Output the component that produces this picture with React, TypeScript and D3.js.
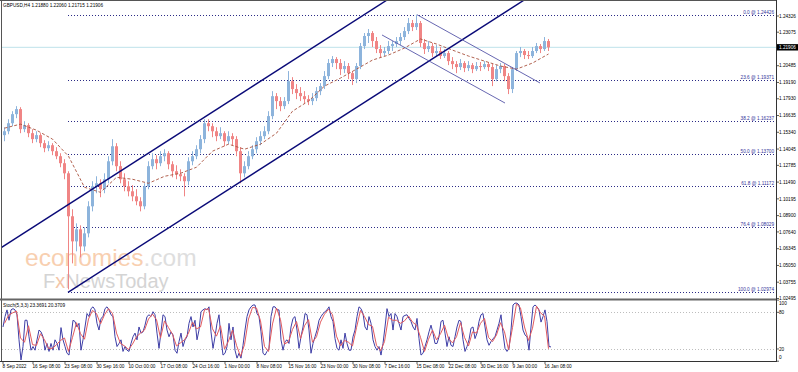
import * as d3 from "d3";

const W = 798;
const H = 372;
const FONT = "'Liberation Sans', Arial, sans-serif";

// one candle here = 4 H4 bars (1 px per H4 bar on screen)
const BARS_PER_CANDLE = 4;

const opens = [
  1.1512, 1.1542, 1.1604, 1.1674, 1.1713, 1.1558, 1.1589, 1.1527, 1.1481, 1.1512,
  1.1450, 1.1411, 1.1434, 1.1388, 1.1349, 1.1295, 1.1217, 1.0885, 1.0691, 1.0784,
  1.0652, 1.0753, 1.0962, 1.1117, 1.1140, 1.1094, 1.1171, 1.1310, 1.1426, 1.1272,
  1.1171, 1.1117, 1.1078, 1.1039, 1.1001, 1.0962, 1.1117, 1.1272, 1.1326, 1.1295,
  1.1349, 1.1372, 1.1287, 1.1233, 1.1210, 1.1194, 1.1156, 1.1310, 1.1349, 1.1403,
  1.1481, 1.1604, 1.1581, 1.1542, 1.1504, 1.1527, 1.1465, 1.1504, 1.1481, 1.1388,
  1.1217, 1.1272, 1.1349, 1.1403, 1.1465, 1.1504, 1.1542, 1.1659, 1.1813, 1.1775,
  1.1736, 1.1775, 1.1929, 1.1868, 1.1837, 1.1813, 1.1790, 1.1775, 1.1798, 1.1852,
  1.1891, 1.1968, 1.2069, 1.2100, 1.2069, 1.2022, 1.2046, 1.1991, 1.1945, 1.2046,
  1.2200, 1.2278, 1.2301, 1.2239, 1.2177, 1.2146, 1.2162, 1.2200, 1.2216, 1.2239,
  1.2270, 1.2316, 1.2378, 1.2347, 1.2378, 1.2224, 1.2177, 1.2200, 1.2146, 1.2162,
  1.2123, 1.2146, 1.2084, 1.2061, 1.2038, 1.2069, 1.2030, 1.2053, 1.2022, 1.2046,
  1.2038, 1.2061, 1.2038, 1.1945, 1.2022, 1.2046, 1.1968, 1.1868, 1.2022, 1.2146,
  1.2162, 1.2131, 1.2123, 1.2162, 1.2200, 1.2177, 1.2239,
];
const highs = [
  1.1573, 1.1635, 1.1697, 1.1736, 1.1728, 1.1620, 1.1604, 1.1558, 1.1542, 1.1527,
  1.1473, 1.1465, 1.1450, 1.1419, 1.1372, 1.1326, 1.1233, 1.0939, 1.0830, 1.0815,
  1.0799, 1.1001, 1.1156, 1.1194, 1.1171, 1.1217, 1.1349, 1.1481, 1.1450, 1.1310,
  1.1217, 1.1156, 1.1125, 1.1094, 1.1032, 1.1140, 1.1310, 1.1372, 1.1357, 1.1388,
  1.1403, 1.1388, 1.1310, 1.1279, 1.1248, 1.1217, 1.1341, 1.1388, 1.1434, 1.1512,
  1.1635, 1.1635, 1.1604, 1.1573, 1.1573, 1.1542, 1.1542, 1.1527, 1.1504, 1.1419,
  1.1310, 1.1388, 1.1434, 1.1496, 1.1542, 1.1581, 1.1697, 1.1852, 1.1837, 1.1806,
  1.1806, 1.2007, 1.1960, 1.1906, 1.1883, 1.1852, 1.1821, 1.1837, 1.1883, 1.1914,
  1.2007, 1.2100, 1.2123, 1.2115, 1.2100, 1.2084, 1.2069, 1.2007, 1.2069, 1.2224,
  1.2301, 1.2332, 1.2316, 1.2270, 1.2208, 1.2193, 1.2239, 1.2239, 1.2270, 1.2301,
  1.2347, 1.2417, 1.2402, 1.2443, 1.2394, 1.2255, 1.2239, 1.2224, 1.2208, 1.2193,
  1.2177, 1.2162, 1.2115, 1.2084, 1.2100, 1.2084, 1.2084, 1.2069, 1.2077, 1.2077,
  1.2084, 1.2077, 1.2061, 1.2053, 1.2069, 1.2061, 1.1991, 1.2038, 1.2162, 1.2193,
  1.2177, 1.2162, 1.2193, 1.2224, 1.2216, 1.2270, 1.2255,
];
const lows = [
  1.1465, 1.1519, 1.1581, 1.1643, 1.1527, 1.1535, 1.1496, 1.1450, 1.1457, 1.1419,
  1.1380, 1.1388, 1.1357, 1.1326, 1.1264, 1.1171, 1.0320, 1.0521, 1.0614, 1.0567,
  1.0614, 1.0722, 1.0923, 1.1063, 1.1032, 1.1063, 1.1140, 1.1279, 1.1233, 1.1140,
  1.1078, 1.1039, 1.1001, 1.0970, 1.0923, 1.0939, 1.1094, 1.1248, 1.1248, 1.1272,
  1.1310, 1.1248, 1.1186, 1.1171, 1.1156, 1.1039, 1.1125, 1.1279, 1.1326, 1.1372,
  1.1450, 1.1542, 1.1496, 1.1465, 1.1481, 1.1426, 1.1442, 1.1434, 1.1349, 1.1140,
  1.1186, 1.1248, 1.1326, 1.1372, 1.1434, 1.1481, 1.1519, 1.1635, 1.1713, 1.1697,
  1.1713, 1.1752, 1.1829, 1.1790, 1.1775, 1.1759, 1.1744, 1.1744, 1.1775, 1.1821,
  1.1868, 1.1945, 1.2038, 1.2022, 1.1976, 1.1991, 1.1945, 1.1899, 1.1914, 1.2022,
  1.2177, 1.2224, 1.2193, 1.2146, 1.2115, 1.2123, 1.2139, 1.2162, 1.2193, 1.2208,
  1.2247, 1.2293, 1.2316, 1.2324, 1.2193, 1.2139, 1.2154, 1.2115, 1.2123, 1.2100,
  1.2108, 1.2053, 1.2022, 1.1991, 1.2015, 1.1999, 1.2007, 1.1991, 1.2007, 1.2007,
  1.2022, 1.2007, 1.1891, 1.1929, 1.1991, 1.1929, 1.1829, 1.1837, 1.2007, 1.2115,
  1.2100, 1.2100, 1.2108, 1.2146, 1.2146, 1.2162, 1.2162,
];
const closes = [
  1.1542, 1.1604, 1.1674, 1.1713, 1.1558, 1.1589, 1.1527, 1.1481, 1.1512, 1.1450,
  1.1411, 1.1434, 1.1388, 1.1349, 1.1295, 1.1217, 1.0885, 1.0691, 1.0784, 1.0652,
  1.0753, 1.0962, 1.1117, 1.1140, 1.1094, 1.1171, 1.1310, 1.1426, 1.1272, 1.1171,
  1.1117, 1.1078, 1.1039, 1.1001, 1.0962, 1.1117, 1.1272, 1.1326, 1.1295, 1.1349,
  1.1372, 1.1287, 1.1233, 1.1210, 1.1194, 1.1156, 1.1310, 1.1349, 1.1403, 1.1481,
  1.1604, 1.1581, 1.1542, 1.1504, 1.1527, 1.1465, 1.1504, 1.1481, 1.1388, 1.1217,
  1.1272, 1.1349, 1.1403, 1.1465, 1.1504, 1.1542, 1.1659, 1.1813, 1.1775, 1.1736,
  1.1775, 1.1929, 1.1868, 1.1837, 1.1813, 1.1790, 1.1775, 1.1798, 1.1852, 1.1891,
  1.1968, 1.2069, 1.2100, 1.2069, 1.2022, 1.2046, 1.1991, 1.1945, 1.2046, 1.2200,
  1.2278, 1.2301, 1.2239, 1.2177, 1.2146, 1.2162, 1.2200, 1.2216, 1.2239, 1.2270,
  1.2316, 1.2378, 1.2347, 1.2378, 1.2224, 1.2177, 1.2200, 1.2146, 1.2162, 1.2123,
  1.2146, 1.2084, 1.2061, 1.2038, 1.2069, 1.2030, 1.2053, 1.2022, 1.2046, 1.2038,
  1.2061, 1.2038, 1.1945, 1.2022, 1.2046, 1.1968, 1.1868, 1.2022, 1.2146, 1.2162,
  1.2131, 1.2123, 1.2162, 1.2200, 1.2177, 1.2239, 1.2191,
];

// dashed moving average, read every 4 candles
const maCandle = [
  0, 4, 8, 12, 16, 20, 24, 28, 32, 36, 40, 44, 48, 52, 56, 60, 64, 68,
  72, 76, 80, 84, 88, 92, 96, 100, 104, 108, 112, 116, 120, 124, 128, 132, 136,
];
const maValues = [
  1.1566, 1.1597, 1.1550, 1.1481, 1.1349, 1.1109, 1.1070, 1.1186, 1.1171, 1.1140,
  1.1194, 1.1217, 1.1264, 1.1388, 1.1442, 1.1403, 1.1442, 1.1527, 1.1697, 1.1775,
  1.1891, 1.1953, 1.2022, 1.2092, 1.2131, 1.2185, 1.2255, 1.2216, 1.2169, 1.2123,
  1.2084, 1.2046, 1.2022, 1.2069, 1.2139,
];

// stochastic main line, one reading every 2 H4 bars
const stochMain = [
  56, 73, 84, 67, 84, 86, 84, 76, 35, 2, 24, 67, 67, 40, 18, 24, 18, 35, 51, 48,
  40, 18, 29, 16, 29, 18, 35, 29, 18, 55, 35, 24, 13, 10, 40, 67, 65, 56, 62, 18,
  35, 56, 78, 73, 86, 89, 84, 62, 51, 70, 73, 86, 89, 84, 76, 73, 40, 24, 29, 35,
  16, 24, 18, 16, 29, 40, 46, 35, 56, 46, 48, 59, 73, 76, 73, 81, 76, 46, 21, 48,
  76, 73, 51, 40, 48, 43, 18, 13, 32, 46, 24, 35, 40, 62, 73, 56, 67, 35, 51, 81,
  84, 86, 84, 89, 48, 21, 40, 62, 76, 37, 10, 13, 24, 62, 35, 56, 18, 5, 13, 5,
  26, 51, 73, 84, 89, 92, 92, 78, 73, 48, 13, 10, 16, 21, 73, 89, 89, 84, 84, 35,
  18, 32, 35, 29, 56, 70, 73, 51, 21, 40, 56, 78, 76, 51, 13, 29, 40, 51, 67, 73,
  78, 81, 84, 89, 73, 65, 37, 21, 18, 35, 21, 46, 29, 18, 18, 40, 51, 73, 89, 86,
  78, 56, 51, 73, 62, 35, 24, 18, 24, 10, 29, 56, 86, 73, 78, 51, 78, 73, 62, 51,
  73, 75, 76, 70, 65, 56, 51, 70, 37, 10, 13, 24, 35, 48, 59, 46, 29, 29, 40, 65,
  67, 46, 24, 40, 26, 24, 40, 56, 67, 65, 35, 16, 24, 35, 54, 56, 37, 46, 65, 76,
  78, 56, 35, 26, 32, 37, 40, 51, 62, 76, 46, 21, 16, 21, 51, 92, 95, 95, 92, 73,
  51, 43, 40, 18, 56, 89, 92, 89, 84, 64, 73, 84, 65, 24, 23.37,
];
// stochastic signal line, one reading per candle
const stochSignal = [
  62, 75, 79, 82, 38, 31, 58, 27, 26, 45, 35, 21, 21, 27, 34, 38, 16, 39, 63, 45,
  36, 69, 83, 78, 61, 76, 86, 78, 46, 29, 25, 19, 28, 40, 46, 51, 69, 77, 68, 38,
  66, 55, 44, 25, 30, 35, 46, 64, 53, 56, 84, 86, 53, 41, 58, 20, 33, 51, 26, 8,
  27, 69, 88, 87, 66, 24, 16, 61, 87, 68, 28, 32, 52, 65, 37, 58, 68, 31, 40, 64,
  77, 85, 76, 41, 25, 34, 31, 25, 55, 83, 73, 60, 57, 26, 17, 32, 72, 67, 67, 62,
  66, 74, 64, 59, 39, 16, 36, 51, 35, 45, 59, 37, 30, 40, 63, 39, 25, 48, 46, 62,
  70, 39, 32, 43, 63, 48, 19, 55, 94, 87, 56, 34, 54, 90, 79, 74, 20.37,
];

const priceTicks = [
  1.24326, 1.23075, 1.20485, 1.1919, 1.1793, 1.16635, 1.1534, 1.14045, 1.12785,
  1.1149, 1.10195, 1.089, 1.0764, 1.06345, 1.0505, 1.03755, 1.02495,
];
const currentPrice = 1.21906;

const fibLevels = ["0.0", "23.6", "38.2", "50.0", "61.8", "76.4", "100.0"];
const fibPrices = [1.24426, 1.19371, 1.16237, 1.137, 1.11172, 1.08029, 1.02974];
const fibStartBar = 65;

const trendLines = [
  { bars: [-2, 387], prices: [1.0641, 1.2571], color: "#0a0a78", width: 1.4 },
  { bars: [65, 525], prices: [1.02974, 1.2575], color: "#0a0a78", width: 1.4 },
  { bars: [414, 537], prices: [1.24426, 1.1915], color: "#5656a8", width: 0.9 },
  { bars: [379, 502], prices: [1.2286, 1.176], color: "#5656a8", width: 0.9 },
];

const timeLabels = [
  "8 Sep 2022", "16 Sep 08:00", "23 Sep 08:00", "30 Sep 16:00", "10 Oct 00:00",
  "17 Oct 08:00", "24 Oct 16:00", "1 Nov 00:00", "8 Nov 08:00", "15 Nov 16:00",
  "23 Nov 00:00", "30 Nov 08:00", "7 Dec 16:00", "15 Dec 08:00", "22 Dec 08:00",
  "30 Dec 16:00", "9 Jan 00:00", "16 Jan 08:00",
];
const timeLabelBars = [0, 30, 62, 94, 126, 158, 190, 222, 254, 286, 318, 350, 382, 414, 446, 478, 510, 542];

const stochTicks = [100, 80, 20, 0];

export default function App() {
  const x = d3.scaleLinear().domain([0, 773]).range([3, 776]);
  const y = d3.scaleLinear().domain([1.02495, 1.24326]).range([298.5, 16]);
  const ys = d3.scaleLinear().domain([0, 100]).range([361.2, 300.1]);
  const candleX = (k: number) => x(k * BARS_PER_CANDLE + 1.5);

  const maLine = d3
    .line<number>()
    .x((_, i) => candleX(maCandle[i]))
    .y((d) => y(d));

  const mainLine = d3
    .line<number>()
    .x((_, j) => x(j * 2))
    .y((d) => ys(d));

  const signalLine = d3
    .line<number>()
    .x((_, k) => candleX(k))
    .y((d) => ys(d));

  const txt = { fontFamily: FONT, fontSize: 4.7 } as const;

  return (
    <div style={{ position: "fixed", left: 0, top: 0 }}>
      <svg width={W} height={H} style={{ display: "block", background: "#fff" }}>
        <defs>
          <clipPath id="main-clip">
            <rect x={2} y={1} width={774} height={297} />
          </clipPath>
        </defs>

        {/* watermark */}
        <g fontFamily={FONT}>
          <text x={25} y={266} fontSize={24.5}>
            <tspan fill="#f8cfb0">economies</tspan>
            <tspan fill="#dedede">.com</tspan>
          </text>
          <text x={43} y={288} fontSize={20}>
            <tspan fill="#d4d4d4">F</tspan>
            <tspan fill="#f3c6a8">x</tspan>
            <tspan fill="#d4d4d4">NewsToday</tspan>
          </text>
        </g>

        <g clipPath="url(#main-clip)">
          {/* current price line */}
          <line x1={2} x2={776} y1={y(currentPrice)} y2={y(currentPrice)} stroke="#bfe2ea" strokeWidth={1} />

          {/* fibonacci levels */}
          {fibPrices.map((p, i) => (
            <g key={fibLevels[i]}>
              <line
                x1={x(fibStartBar)}
                x2={776}
                y1={Math.round(y(p)) + 0.5}
                y2={Math.round(y(p)) + 0.5}
                stroke="#2b2b86"
                strokeWidth={1}
                strokeDasharray="1,2"
              />
              <text x={774} y={Math.round(y(p)) - 1} textAnchor="end" fill="#34349a" {...txt}>
                {`${fibLevels[i]} @ ${p.toFixed(5)}`}
              </text>
            </g>
          ))}

          {/* candles */}
          {closes.map((c, k) => {
            const o = opens[k];
            const up = c >= o;
            const col = up ? "#8db4dc" : "#f08585";
            const cx = candleX(k);
            const top = y(Math.max(o, c));
            const bot = y(Math.min(o, c));
            return (
              <g key={k}>
                <line x1={cx} x2={cx} y1={y(highs[k])} y2={y(lows[k])} stroke={col} strokeWidth={1} />
                <rect x={cx - 1.5} y={top} width={3} height={Math.max(1, bot - top)} fill={col} />
              </g>
            );
          })}

          {/* moving average */}
          <path d={maLine(maValues) ?? ""} fill="none" stroke="#a8503c" strokeWidth={0.9} strokeDasharray="3,2" />

          {/* trend channels */}
          {trendLines.map((t, i) => (
            <line
              key={i}
              x1={x(t.bars[0])}
              y1={y(t.prices[0])}
              x2={x(t.bars[1])}
              y2={y(t.prices[1])}
              stroke={t.color}
              strokeWidth={t.width}
            />
          ))}
        </g>

        {/* header */}
        <text x={3} y={6.5} fill="#000" {...txt}>
          GBPUSD,H4  1.21880 1.22060 1.21715 1.21906
        </text>

        {/* stochastic panel */}
        {[80, 20].map((v) => (
          <line
            key={v}
            x1={2}
            x2={776}
            y1={Math.round(ys(v)) + 0.5}
            y2={Math.round(ys(v)) + 0.5}
            stroke="#bdbdbd"
            strokeWidth={1}
            strokeDasharray="1,2"
          />
        ))}
        <path d={mainLine(stochMain) ?? ""} fill="none" stroke="#3e3ea6" strokeWidth={1} />
        <path d={signalLine(stochSignal) ?? ""} fill="none" stroke="#e25a5e" strokeWidth={1} />
        <text x={3} y={306.5} fill="#000" {...txt}>
          Stoch(5,3,3) 23.3691 20.3709
        </text>

        {/* frames */}
        <line x1={0} x2={776} y1={0.5} y2={0.5} stroke="#555" strokeWidth={1} />
        <line x1={1.5} x2={1.5} y1={0} y2={361} stroke="#555" strokeWidth={1} />
        <line x1={0} x2={777} y1={299.5} y2={299.5} stroke="#666" strokeWidth={2} />
        <line x1={0} x2={777} y1={361.5} y2={361.5} stroke="#333" strokeWidth={1} />
        <line x1={776.5} x2={776.5} y1={0} y2={362} stroke="#333" strokeWidth={1} />

        {/* price axis */}
        {priceTicks.map((p) => (
          <g key={p}>
            <line x1={777} x2={779} y1={y(p)} y2={y(p)} stroke="#333" strokeWidth={0.8} />
            <text x={779} y={y(p) + 1.7} fill="#000" {...txt}>
              {p.toFixed(5)}
            </text>
          </g>
        ))}
        <rect x={777} y={y(currentPrice) - 3.2} width={21} height={6.4} fill="#000" />
        <text x={779} y={y(currentPrice) + 1.7} fill="#fff" {...txt}>
          {currentPrice.toFixed(5)}
        </text>

        {/* stochastic axis */}
        {stochTicks.map((v) => (
          <g key={v}>
            <line x1={777} x2={779} y1={ys(v)} y2={ys(v)} stroke="#333" strokeWidth={0.8} />
            <text x={779} y={Math.min(357, Math.max(303, ys(v))) + 1.7} fill="#000" {...txt}>
              {v}
            </text>
          </g>
        ))}

        {/* time axis */}
        {timeLabels.map((lab, i) => (
          <g key={lab}>
            <line x1={x(timeLabelBars[i])} x2={x(timeLabelBars[i])} y1={362} y2={364} stroke="#333" strokeWidth={0.8} />
            <text x={x(timeLabelBars[i]) - 0.5} y={368} fill="#000" {...txt}>
              {lab}
            </text>
          </g>
        ))}
      </svg>
    </div>
  );
}
